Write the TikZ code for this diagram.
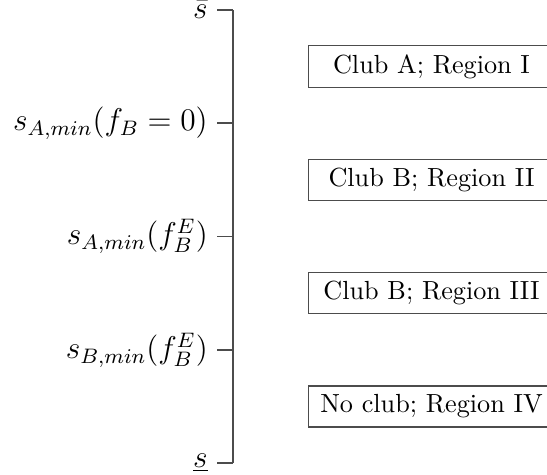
\documentclass[tikz,border=0pt]{standalone}
\begin{document}
\begin{tikzpicture}[x=0.3817pt,y=-0.3817pt,
  axis/.style={draw=black!70,line width=0.4pt},
  lab/.style={anchor=east,font=\large},
  region/.style={draw=black!70,minimum width=94pt,inner sep=3.33pt,anchor=center}]
\clip (0,0) rectangle (547,475);
% axis coordinates
\coordinate (a1) at (233,10);
\coordinate (a2) at (233,123);
\coordinate (a3) at (233,236.5);
\coordinate (a4) at (233,350);
\coordinate (a5) at (233,463);
\coordinate (b1) at (217,10);
\coordinate (b2) at (217,123);
\coordinate (b3) at (217,236.5);
\coordinate (b4) at (217,350);
\coordinate (b5) at (217,463);
\draw[axis] (a1) -- (a5);
\foreach \i in {1,...,5} \draw[axis] (b\i) -- (a\i);
\node[lab] (l1) at (b1) {$\bar{s}$};
\node[lab] (l2) at (b2) {$s_{A,min}(f_B=0)$};
\node[lab] (l3) at (b3) {$s_{A,min}(f_B^E)$};
\node[lab] (l4) at (b4) {$s_{B,min}(f_B^E)$};
\node[lab] (l5) at (b5) {$\underline{s}$};
\node[region] (r1) at (431.5,66.5) {Club A; Region I};
\node[region] (r2) at (431.5,179.75) {Club B; Region II};
\node[region] (r3) at (431.5,293.25) {Club B; Region III};
\node[region] (r4) at (431.5,406.5) {No club; Region IV};
\end{tikzpicture}
\end{document}
